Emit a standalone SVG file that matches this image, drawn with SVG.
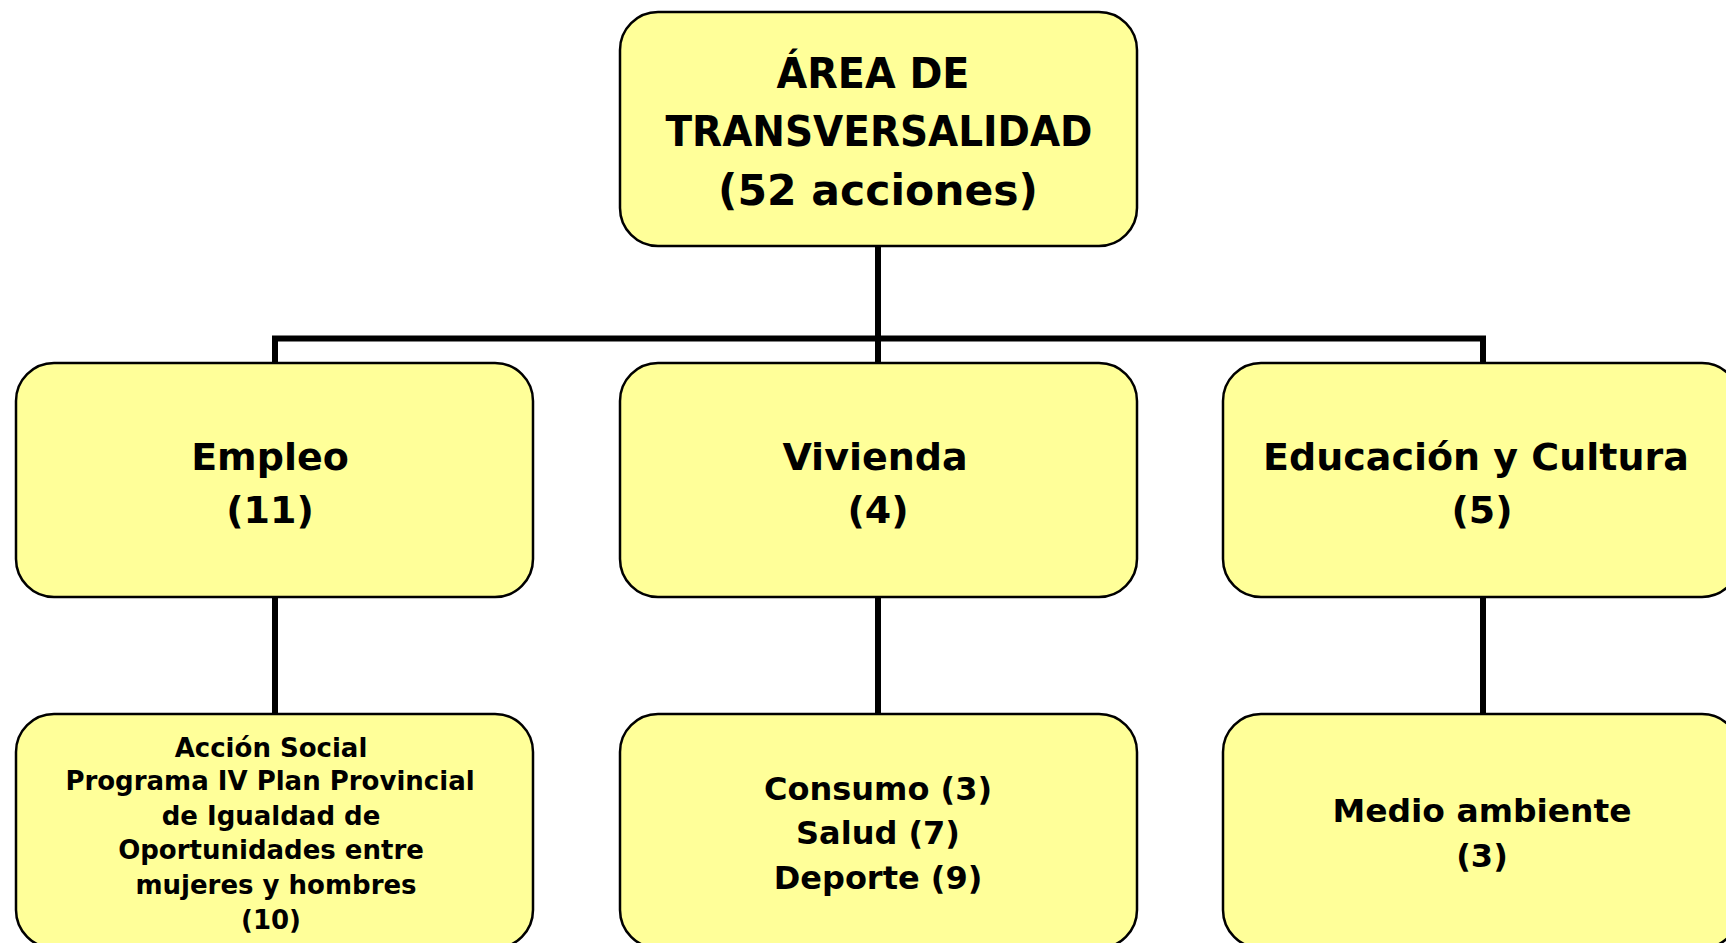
<svg xmlns="http://www.w3.org/2000/svg" width="1726" height="943" viewBox="0 0 1726 943">
<style>
.box{fill:#FFFF99;stroke:#000;stroke-width:2.5}
.t{font-family:"DejaVu Sans","Liberation Sans",sans-serif;font-weight:bold;fill:#000;text-anchor:middle}
.big{font-size:43px}
.mid{font-size:38px}
.sm{font-size:26px}
.md{font-size:32px}
.conn{fill:none;stroke:#000;stroke-width:6;stroke-linejoin:miter;stroke-linecap:butt}
</style>
<rect width="1726" height="943" fill="#fff"/>
<g id="connectors">
<line class="conn" x1="878" y1="246" x2="878" y2="363"/>
<path class="conn" d="M275,363 V338.5 H1483 V363"/>
<line class="conn" x1="275" y1="597" x2="275" y2="714"/>
<line class="conn" x1="878" y1="597" x2="878" y2="714"/>
<line class="conn" x1="1483" y1="597" x2="1483" y2="714"/>
</g>
<g id="node-area">
<rect class="box" x="620" y="12" width="517" height="234" rx="38"/>
<text class="t big" x="873" y="88" textLength="193" lengthAdjust="spacingAndGlyphs">ÁREA DE</text>
<text class="t big" x="879" y="146" textLength="427" lengthAdjust="spacingAndGlyphs">TRANSVERSALIDAD</text>
<text class="t big" x="878" y="205" textLength="320" lengthAdjust="spacingAndGlyphs">(52 acciones)</text>
</g>
<g id="node-empleo">
<rect class="box" x="16" y="363" width="517" height="234" rx="38"/>
<text class="t mid" x="270" y="470">Empleo</text>
<text class="t mid" x="270" y="523">(11)</text>
</g>
<g id="node-vivienda">
<rect class="box" x="620" y="363" width="517" height="234" rx="38"/>
<text class="t mid" x="875" y="470">Vivienda</text>
<text class="t mid" x="878" y="523">(4)</text>
</g>
<g id="node-educacion">
<rect class="box" x="1223" y="363" width="517" height="234" rx="38"/>
<text class="t mid" x="1476" y="470">Educación y Cultura</text>
<text class="t mid" x="1482" y="523">(5)</text>
</g>
<g id="node-accion-social">
<rect class="box" x="16" y="714" width="517" height="234" rx="38"/>
<text class="t sm" x="271" y="757">Acción Social</text>
<text class="t sm" x="270" y="790">Programa IV Plan Provincial</text>
<text class="t sm" x="271" y="824.5">de Igualdad de</text>
<text class="t sm" x="271" y="859">Oportunidades entre</text>
<text class="t sm" x="276" y="894">mujeres y hombres</text>
<text class="t sm" x="271" y="929">(10)</text>
</g>
<g id="node-consumo">
<rect class="box" x="620" y="714" width="517" height="234" rx="38"/>
<text class="t md" x="878" y="800">Consumo (3)</text>
<text class="t md" x="878" y="844">Salud (7)</text>
<text class="t md" x="878" y="889">Deporte (9)</text>
</g>
<g id="node-medio-ambiente">
<rect class="box" x="1223" y="714" width="517" height="234" rx="38"/>
<text class="t md" x="1482" y="822" textLength="299" lengthAdjust="spacingAndGlyphs">Medio ambiente</text>
<text class="t md" x="1482" y="867">(3)</text>
</g>
</svg>
